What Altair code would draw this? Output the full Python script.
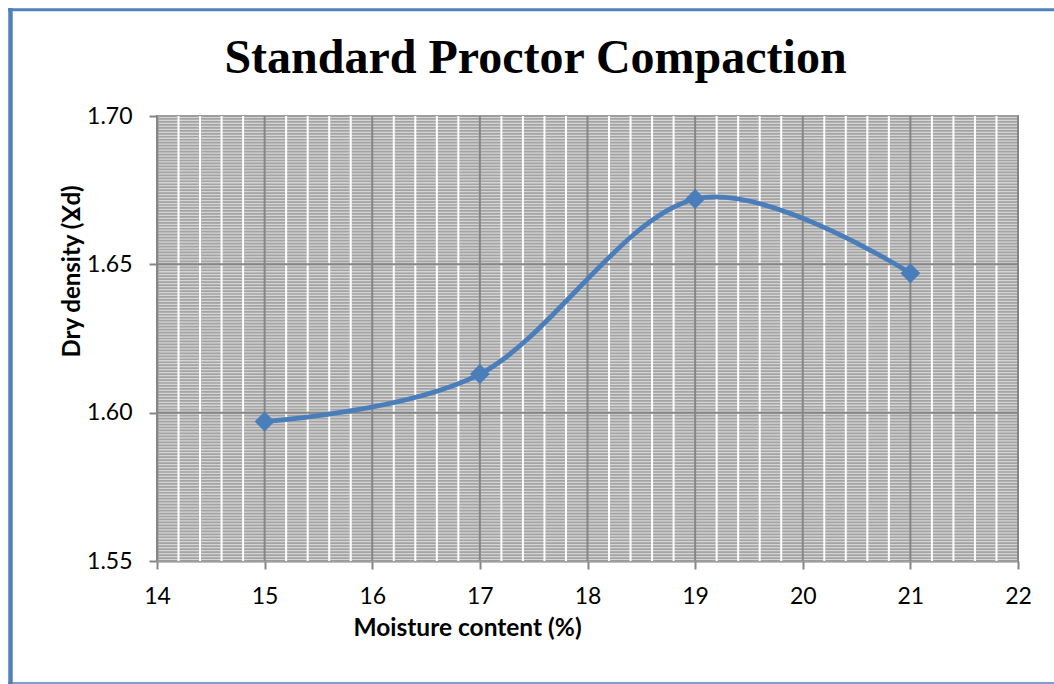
import altair as alt
import numpy as np
import pandas as pd

# Standard Proctor test results
moisture = [15, 17, 19, 21]            # moisture content (%)
dry_density = [1.597, 1.613, 1.672, 1.647]  # dry density

x_ticks = [14, 15, 16, 17, 18, 19, 20, 21, 22]
y_ticks = [1.55, 1.60, 1.65, 1.70]

X_DOMAIN = [14, 22]
Y_DOMAIN = [1.55, 1.70]

BLUE = "#4a7ebb"
FRAME = "#4f81bd"
GRID_DARK = "#868686"
LABEL_FONT = "Lato"

data = pd.DataFrame({"moisture": moisture, "dry_density": dry_density})

# gridline positions (major + minor), derived from the axis ranges
y_minor = pd.DataFrame({"v": np.round(np.arange(1550, 1701, 1) / 1000.0, 3)})
x_minor_vals = [round(14 + i * 0.2, 1) for i in range(41)]
x_minor = pd.DataFrame({"v": [v for v in x_minor_vals if abs(v - round(v)) > 1e-6]})
x_major = pd.DataFrame({"v": x_ticks})
y_major = pd.DataFrame({"v": [v for v in y_ticks if v not in (1.55, 1.70)]})
one = pd.DataFrame({"k": [0]})

xs = alt.Scale(domain=X_DOMAIN, nice=False, zero=False)
ys = alt.Scale(domain=Y_DOMAIN, nice=False, zero=False)

x_axis = alt.Axis(
    values=x_ticks,
    format="d",
    grid=False,
    labelFlush=False,
    labelFont=LABEL_FONT,
    labelFontSize=23,
    labelColor="#000000",
    labelPadding=16,
    tickSize=8,
    tickWidth=2,
    tickColor=GRID_DARK,
    domainColor=GRID_DARK,
    domainWidth=2,
    title="Moisture content (%)",
    titleFont=LABEL_FONT,
    titleFontSize=24.5,
    titleFontWeight="bold",
    titleColor="#000000",
    titleAnchor="start",
    titleAlign="center",
    titleBaseline="alphabetic",
    titleX=310,
    titleY=74,
)
y_axis = alt.Axis(
    values=y_ticks,
    format=".2f",
    grid=False,
    labelFlush=False,
    labelFont=LABEL_FONT,
    labelFontSize=23,
    labelColor="#000000",
    labelPadding=17,
    tickSize=8,
    tickWidth=2,
    tickColor=GRID_DARK,
    domainColor=GRID_DARK,
    domainWidth=2,
    title="Dry density (Ɣd)",
    titleFont=LABEL_FONT,
    titleFontSize=24,
    titleFontWeight="bold",
    titleColor="#000000",
    titleAngle=270,
    titleAlign="center",
    titleBaseline="alphabetic",
    titleX=-78,
    titleY=155,
)


def X(field):
    return alt.X(field, type="quantitative", scale=xs, axis=x_axis)


def Y(field):
    return alt.Y(field, type="quantitative", scale=ys, axis=y_axis)


# plot-area pattern: dense grey horizontals, white minor verticals, dark major grid
h_minor = alt.Chart(y_minor).mark_rule(color="#a4a4a4", strokeWidth=1.7).encode(y=Y("v"))
v_minor = alt.Chart(x_minor).mark_rule(color="#ffffff", strokeWidth=2).encode(x=X("v"))
v_major = alt.Chart(x_major).mark_rule(color=GRID_DARK, strokeWidth=2).encode(x=X("v"))
h_major = alt.Chart(y_major).mark_rule(color=GRID_DARK, strokeWidth=2).encode(y=Y("v"))

curve = alt.Chart(data).mark_line(
    color=BLUE, strokeWidth=4.8, interpolate="cardinal"
).encode(x=X("moisture"), y=Y("dry_density"))

points = alt.Chart(data).mark_point(
    shape="diamond", filled=True, size=400, color=BLUE, opacity=1
).encode(x=X("moisture"), y=Y("dry_density"))

# chart title
title = alt.Chart(one).mark_text(
    text="Standard Proctor Compaction",
    font="Liberation Serif",
    fontSize=48,
    fontWeight="bold",
    color="#000000",
    align="center",
    baseline="alphabetic",
).encode(x=alt.value(378.5), y=alt.value(-43))

# outer blue frame around the chart
frame_left = alt.Chart(one).mark_rule(color=FRAME, strokeWidth=4.5).encode(
    x=alt.value(-146.5), y=alt.value(-108), y2=alt.value(570)
)
frame_top = alt.Chart(one).mark_rule(color=FRAME, strokeWidth=3).encode(
    x=alt.value(-149), x2=alt.value(900), y=alt.value(-106.3)
)
frame_bottom = alt.Chart(one).mark_rule(color=FRAME, strokeWidth=1.5).encode(
    x=alt.value(-149), x2=alt.value(900), y=alt.value(567)
)

chart = alt.layer(
    h_minor, v_minor, v_major, h_major, curve, points,
    title, frame_left, frame_top, frame_bottom,
).properties(
    width=861,
    height=445,
    autosize=alt.AutoSizeParams(type="none"),
    padding={"left": 157, "top": 116, "right": 36, "bottom": 123},
    background="#ffffff",
).configure_view(
    stroke=GRID_DARK, strokeWidth=2, fill="#d4d4d4"
)

chart.save("out.html", embed_options={"renderer": "svg", "actions": False})
